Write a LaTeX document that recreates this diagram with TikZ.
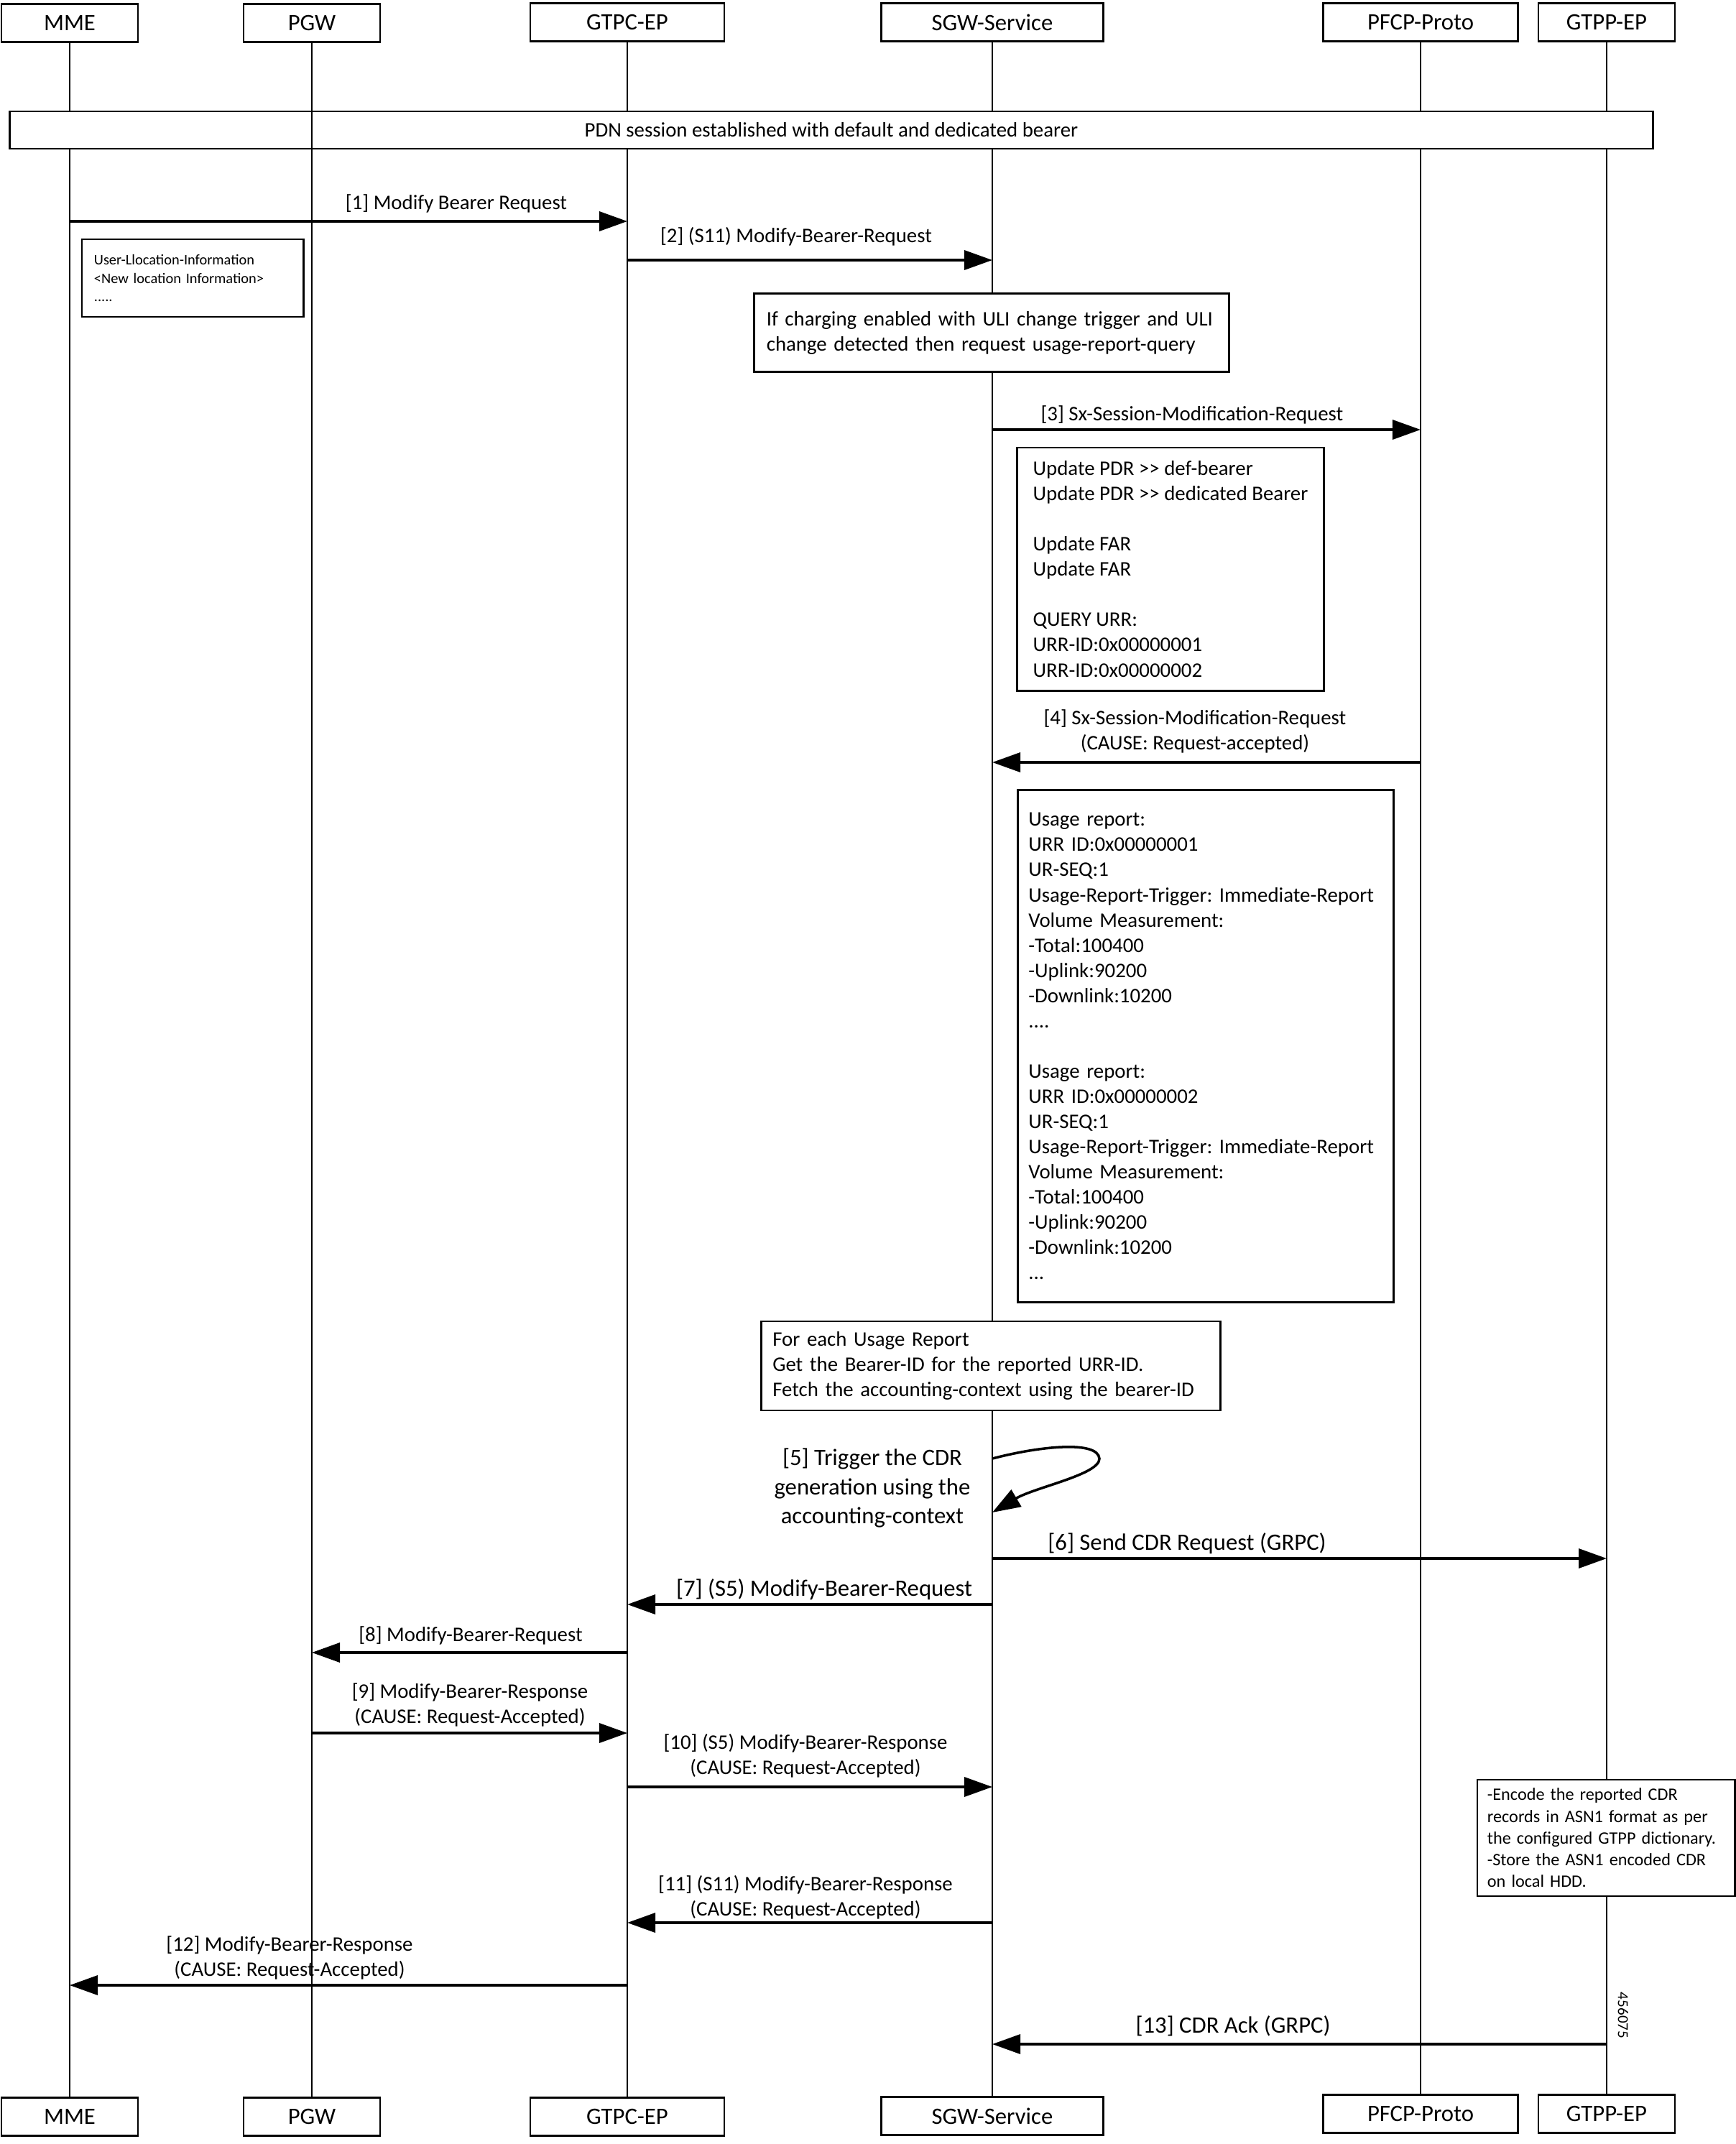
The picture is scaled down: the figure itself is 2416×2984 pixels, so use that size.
\documentclass[tikz,border=0pt]{standalone}
\usepackage{fontspec}
\setmainfont{Carlito}
\usetikzlibrary{arrows.meta,calc,positioning}
\newcommand{\lblsize}{\fontsize{8.2}{9.96}\selectfont}
\newcommand{\bigsize}{\fontsize{9.3}{11.4}\selectfont}
\tikzset{
  actor/.style={draw,line width=0.8pt,fill=white,minimum height=0.53cm,inner sep=0pt,font=\bigsize},
  lifeline/.style={line width=0.5pt},
  msg/.style={line width=1pt,-{Triangle[length=0.39cm,width=0.27cm]}},
  note/.style={draw,line width=0.8pt,fill=white,align=left,inner ysep=0pt,font=\lblsize},
  lbl/.style={align=center,inner sep=0pt,font=\lblsize},
  biglbl/.style={align=center,inner sep=0pt,font=\bigsize}
}

\begin{document}
\frenchspacing
\begin{tikzpicture}[x=0.01cm,y=-0.01cm]
  \useasboundingbox (0,0) rectangle (2416,2984);
  % actors, top and bottom
  \node[actor,minimum width=1.90cm] (mmeTop)  at (97,32)   {MME};
  \node[actor,minimum width=1.90cm] (pgwTop)  at (434,32)  {PGW};
  \node[actor,minimum width=2.70cm] (gtpcTop) at (873,31)  {GTPC-EP};
  \node[actor,minimum width=3.09cm] (sgwTop)  at (1381,31) {SGW-Service};
  \node[actor,minimum width=2.71cm] (pfcpTop) at (1977,31) {PFCP-Proto};
  \node[actor,minimum width=1.90cm] (gtppTop) at (2236,31) {GTPP-EP};
  \node[actor,minimum width=1.90cm] (mmeBot)  at (97,2946)   {MME};
  \node[actor,minimum width=1.90cm] (pgwBot)  at (434,2946)  {PGW};
  \node[actor,minimum width=2.70cm] (gtpcBot) at (873,2946)  {GTPC-EP};
  \node[actor,minimum width=3.09cm] (sgwBot)  at (1381,2945) {SGW-Service};
  \node[actor,minimum width=2.71cm] (pfcpBot) at (1977,2942) {PFCP-Proto};
  \node[actor,minimum width=1.90cm] (gtppBot) at (2236,2942) {GTPP-EP};
  \foreach \n in {mme,pgw,gtpc,sgw,pfcp,gtpp}
    \draw[lifeline] (\n Top) -- (\n Bot);

  % notes
  \node[note,align=center,minimum width=22.86cm,minimum height=0.52cm] (pdnBar) at (1157,181)
    {PDN session established with default and dedicated bearer};
  \draw[lifeline] (pgwTop) -- (pgwBot);
  \node[note,font=\fontsize{5.8}{7.3}\selectfont,inner xsep=0.17cm,text width=2.74cm,minimum height=1.08cm] (uliNote) at (268,387)
    {User-Llocation-Information\\<New location Information>\\.....};
  \node[note,inner xsep=0.17cm,text width=6.26cm,minimum height=1.09cm] (chargeNote) at (1380,463)
    {If charging enabled with ULI change trigger and ULI\\change detected then request usage-report-query};
  \node[note,minimum width=4.26cm,minimum height=3.38cm] (pdrNote) at (1629,792)
    {Update PDR >\kern0pt> def-bearer\\Update PDR >\kern0pt> dedicated Bearer\\[9.96pt]Update FAR\\Update FAR\\[9.96pt]QUERY URR:\\URR-ID:0x00000001\\URR-ID:0x00000002};
  \node[note,inner xsep=0.15cm,text width=4.93cm,minimum height=7.12cm] (usageNote) at (1678,1456)
    {Usage report:\\URR ID:0x00000001\\UR-SEQ:1\\Usage-Report-Trigger: Immediate-Report\\Volume Measurement:\\-Total:100400\\-Uplink:90200\\-Downlink:10200\\....\\[9.96pt]Usage report:\\URR ID:0x00000002\\UR-SEQ:1\\Usage-Report-Trigger: Immediate-Report\\Volume Measurement:\\-Total:100400\\-Uplink:90200\\-Downlink:10200\\...};
  \node[note,inner xsep=0.16cm,text width=6.07cm,minimum height=1.24cm] (eachNote) at (1379,1901)
    {For each Usage Report\\Get the Bearer-ID for the reported URR-ID.\\Fetch the accounting-context using the bearer-ID};
  \node[note,font=\fontsize{6.9}{8.6}\selectfont,inner xsep=0.14cm,text width=3.30cm,minimum height=1.62cm] (encodeNote) at (2235,2558)
    {-Encode the reported CDR\\records in ASN1 format as per\\the configured GTPP dictionary.\\-Store the ASN1 encoded CDR\\on local HDD.};

  % messages
  \draw[msg] (mmeTop |- 0,308) -- (gtpcTop |- 0,308);
  \node[lbl] (m1) at (635,283) {[1] Modify Bearer Request};
  \draw[msg] (gtpcTop |- 0,362) -- (sgwTop |- 0,362);
  \node[lbl] (m2) at (1108,329) {[2] (S11) Modify-Bearer-Request};
  \draw[msg] (sgwTop |- 0,598) -- (pfcpTop |- 0,598);
  \node[lbl] (m3) at (1659,577) {[3] Sx-Session-Modification-Request};
  \draw[msg] (pfcpTop |- 0,1061) -- (sgwTop |- 0,1061);
  \node[lbl] (m4) at (1663,1018) {[4] Sx-Session-Modification-Request\\(CAUSE: Request-accepted)};
  \draw[msg] (sgwTop |- 0,2030) .. controls (1450,2012) and (1528,2005) .. (1530,2030)
    .. controls (1531,2052) and (1440,2070) .. (sgwTop |- 0,2105);
  \node[biglbl] (m5) at (1214,2071) {[5] Trigger the CDR\\generation using the\\accounting-context};
  \draw[msg] (sgwTop |- 0,2169) -- (gtppTop |- 0,2169);
  \node[biglbl] (m6) at (1652,2148) {[6] Send CDR Request (GRPC)};
  \draw[msg] (sgwTop |- 0,2233) -- (gtpcTop |- 0,2233);
  \node[biglbl] (m7) at (1147,2212) {[7] (S5) Modify-Bearer-Request};
  \draw[msg] (gtpcTop |- 0,2300) -- (pgwTop |- 0,2300);
  \node[lbl] (m8) at (655,2276) {[8] Modify-Bearer-Request};
  \draw[msg] (pgwTop |- 0,2412) -- (gtpcTop |- 0,2412);
  \node[lbl] (m9) at (654,2373) {[9] Modify-Bearer-Response\\(CAUSE: Request-Accepted)};
  \draw[msg] (gtpcTop |- 0,2487) -- (sgwTop |- 0,2487);
  \node[lbl] (m10) at (1121,2444) {[10] (S5) Modify-Bearer-Response\\(CAUSE: Request-Accepted)};
  \draw[msg] (sgwTop |- 0,2676) -- (gtpcTop |- 0,2676);
  \node[lbl] (m11) at (1121,2641) {[11] (S11) Modify-Bearer-Response\\(CAUSE: Request-Accepted)};
  \draw[msg] (gtpcTop |- 0,2763) -- (mmeTop |- 0,2763);
  \node[lbl] (m12) at (403,2725) {[12] Modify-Bearer-Response\\(CAUSE: Request-Accepted)};
  \draw[msg] (gtppTop |- 0,2845) -- (sgwTop |- 0,2845);
  \node[biglbl] (m13) at (1716,2820) {[13] CDR Ack (GRPC)};
  \node[inner sep=0pt,rotate=-90,font=\fontsize{6}{7}\selectfont] (figId) at (2259,2805) {456075};
\end{tikzpicture}
\end{document}
